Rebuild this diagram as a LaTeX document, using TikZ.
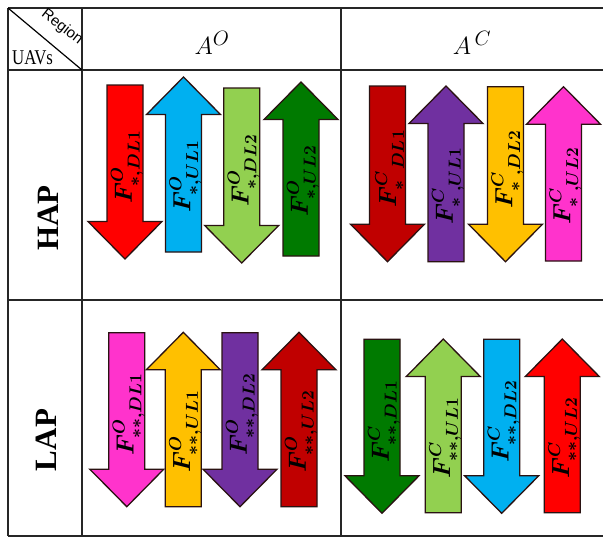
\documentclass[tikz,border=0pt]{standalone}
\usepackage{fontspec}
\newfontfamily\tnr{Liberation Serif}
\newfontfamily\hsans{Liberation Sans}
\definecolor{aRed}{HTML}{FF0000}
\definecolor{aCyan}{HTML}{00B0F0}
\definecolor{aLGreen}{HTML}{92D050}
\definecolor{aGreen}{HTML}{007A00}
\definecolor{aDRed}{HTML}{C00000}
\definecolor{aPurple}{HTML}{7030A0}
\definecolor{aYellow}{HTML}{FFC000}
\definecolor{aMagenta}{HTML}{FF33CC}
\definecolor{edgeC}{HTML}{2A1212}
\tikzset{
  grid line/.style={line width=1.4pt, draw=black!85},
  fatarrow/.style={draw=edgeC, line width=1.3pt, line join=miter},
  arrlab/.style={rotate=90, inner sep=0pt, font=\boldmath\fontsize{25}{29}\selectfont},
  colhead/.style={inner sep=0pt, font=\fontsize{29}{33}\selectfont},
  rowhead/.style={rotate=90, inner sep=0pt, font=\tnr\bfseries\fontsize{31}{35}\selectfont},
}
% #1 name, #2 cx, #3 top, #4 tip, #5 colour, #6 label
\newcommand\dnarr[6]{%
  \path[fatarrow, fill=#5] (#2-18,#3) -- (#2+18,#3) -- (#2+18,#4-37.5) -- (#2+37,#4-37.5)
    -- (#2,#4) -- (#2-37,#4-37.5) -- (#2-18,#4-37.5) -- cycle;
  \node[arrlab] (#1) at (#2+2,{(#3+#4)/2-5}) {$#6$};
}
% #1 name, #2 cx, #3 tip, #4 bottom, #5 colour, #6 label
\newcommand\uparr[6]{%
  \path[fatarrow, fill=#5] (#2,#3) -- (#2+37,#3+37.5) -- (#2+18,#3+37.5) -- (#2+18,#4)
    -- (#2-18,#4) -- (#2-18,#3+37.5) -- (#2-37,#3+37.5) -- cycle;
  \node[arrlab] (#1) at (#2+2,{(#3+#4)/2+12}) {$#6$};
}
\begin{document}
\begin{tikzpicture}[x=1pt,y=-1pt]
\useasboundingbox (0,0) rectangle (603,538);
% table grid
\coordinate (tl) at (8,8);
\coordinate (dc) at (82,70);
\draw[grid line] (8,8) -- (603,8);
\draw[grid line] (8,70) -- (603,70);
\draw[grid line] (8,300) -- (603,300);
\draw[grid line] (8,536) -- (603,536);
\draw[grid line] (8,8) -- (8,536);
\draw[grid line] (82,8) -- (82,536);
\draw[grid line] (341,8) -- (341,536);
\draw[line width=1.2pt] (tl) -- (dc);
% header corner
\node[font=\hsans\fontsize{15}{17}\selectfont, rotate=-38, inner sep=0pt] (reg) at (62,27) {Region};
\node[font=\tnr\fontsize{21}{23}\selectfont, xscale=0.8, inner sep=0pt, anchor=base west] (uav) at (12,64) {UAVs};
% column headers
\node[colhead] (ao) at (212,43) {$A^{O}$};
\node[colhead] (ac) at (472,43) {$A^{\,C}$};
% row headers
\node[rowhead] (hap) at (48,218) {HAP};
\node[rowhead] (lap) at (46,440) {LAP};
% HAP / A^O
\dnarr{a1}{125}{85}{259}{aRed}{F^{O}_{*,DL1}}
\uparr{a2}{183.5}{77}{252}{aCyan}{F^{O}_{*,UL1}}
\dnarr{a3}{241.7}{88}{263}{aLGreen}{F^{O}_{*,DL2}}
\uparr{a4}{301}{82}{256}{aGreen}{F^{O}_{*,UL2}}
% HAP / A^C
\dnarr{a5}{387.5}{86}{261.7}{aDRed}{F^{C}_{*\;\;DL1}}
\uparr{a6}{446}{86}{261.7}{aPurple}{F^{C}_{*\;,UL1}}
\dnarr{a7}{505.5}{86.7}{261.7}{aYellow}{F^{C}_{*\;,DL2}}
\uparr{a8}{563.5}{86.7}{261}{aMagenta}{F^{C}_{*\;,UL2}}
% LAP / A^O
\dnarr{a9}{126.8}{332.7}{506.7}{aMagenta}{F^{O}_{**,DL1}}
\uparr{a10}{183.3}{332.3}{506.7}{aYellow}{F^{O}_{**,UL1}}
\dnarr{a11}{240}{332.7}{506.7}{aPurple}{F^{O}_{**,DL2}}
\uparr{a12}{299}{332.3}{506.7}{aDRed}{F^{O}_{**,UL2}}
% LAP / A^C
\dnarr{a13}{382}{339.3}{513.3}{aGreen}{F^{C}_{**,DL1}}
\uparr{a14}{443.3}{339}{512.7}{aLGreen}{F^{C}_{**,UL1}}
\dnarr{a15}{501.7}{339.3}{513.3}{aCyan}{F^{C}_{**,DL2}}
\uparr{a16}{562.3}{339}{512.7}{aRed}{F^{C}_{**,UL2}}
\end{tikzpicture}
\end{document}
